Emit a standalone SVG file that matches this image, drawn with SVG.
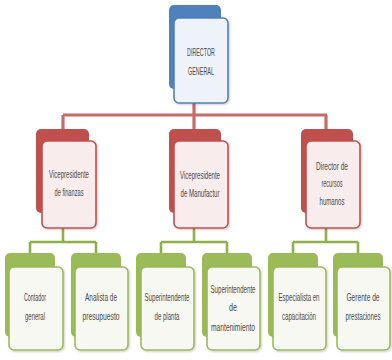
<svg xmlns="http://www.w3.org/2000/svg" width="392" height="360" viewBox="0 0 392 360">
<defs>
<style>
.bb{fill:#4F81BD}
.bf{fill:#EEF2F9;stroke:#4F81BD;stroke-width:1.6}
.rb{fill:#C0504D}
.rf{fill:#F8ECEC;stroke:#C0504D;stroke-width:1.6}
.gb{fill:#9BBB59}
.gf{fill:#F6F8F1;stroke:#9BBB59;stroke-width:1.6}
.red{fill:none;stroke:#C0504D;stroke-width:3.2;stroke-opacity:0.85}
.grn{fill:none;stroke:#8DB148;stroke-width:2.6}
text{font-family:"Liberation Sans",Arial,sans-serif;font-size:10.5px;fill:#4a4a4a;text-anchor:middle}
</style>
<filter id="sh" x="-10%" y="-10%" width="130%" height="130%">
<feDropShadow dx="1" dy="1" stdDeviation="1" flood-opacity="0.2"/>
</filter>
</defs>
<rect width="392" height="360" fill="#ffffff"/>
<g id="connectors">
<path class="red" d="M194,103 V115 M63,115 H327 M63,115 V130 M194,115 V130 M326,115 V130"/>
<path class="grn" d="M63,228 V242 M30,242 H96 M30,242 V254 M96,242 V254"/>
<path class="grn" d="M194,228 V242 M161,242 H227 M161,242 V254 M227,242 V254"/>
<path class="grn" d="M326,228 V242 M293,242 H358 M293,242 V254 M358,242 V254"/>
</g>
<g id="director-general">
<rect class="bb" x="169" y="5" width="52" height="84" rx="5"/>
<rect class="bf" x="174" y="18" width="54" height="85" rx="5" filter="url(#sh)"/>
<text x="201" y="56" textLength="28" lengthAdjust="spacingAndGlyphs">DIRECTOR</text>
<text x="201" y="75" textLength="26" lengthAdjust="spacingAndGlyphs">GENERAL</text>
</g>
<g id="vp-finanzas">
<rect class="rb" x="36" y="129" width="53" height="84" rx="5"/>
<rect class="rf" x="42" y="141" width="54" height="87" rx="5" filter="url(#sh)"/>
<text x="69" y="178" textLength="40" lengthAdjust="spacingAndGlyphs">Vicepresidente</text>
<text x="69" y="196" textLength="29" lengthAdjust="spacingAndGlyphs">de finanzas</text>
</g>
<g id="vp-manufactur">
<rect class="rb" x="169" y="129" width="52" height="84" rx="5"/>
<rect class="rf" x="174" y="141" width="54" height="87" rx="5" filter="url(#sh)"/>
<text x="200" y="179" textLength="40" lengthAdjust="spacingAndGlyphs">Vicepresidente</text>
<text x="200" y="197" textLength="39" lengthAdjust="spacingAndGlyphs">de Manufactur</text>
</g>
<g id="dir-rrhh">
<rect class="rb" x="301" y="129" width="52" height="84" rx="5"/>
<rect class="rf" x="306" y="141" width="54" height="87" rx="5" filter="url(#sh)"/>
<text x="332" y="170" textLength="32" lengthAdjust="spacingAndGlyphs">Director de</text>
<text x="332" y="187" textLength="21" lengthAdjust="spacingAndGlyphs">recursos</text>
<text x="332" y="205" textLength="25" lengthAdjust="spacingAndGlyphs">humanos</text>
</g>
<g id="contador">
<rect class="gb" x="5" y="253" width="50" height="84" rx="5"/>
<rect class="gf" x="9" y="267" width="54" height="83" rx="5" filter="url(#sh)"/>
<text x="35" y="301" textLength="22" lengthAdjust="spacingAndGlyphs">Contador</text>
<text x="35" y="320" textLength="20" lengthAdjust="spacingAndGlyphs">general</text>
</g>
<g id="analista">
<rect class="gb" x="71" y="253" width="50" height="84" rx="5"/>
<rect class="gf" x="75" y="267" width="53" height="83" rx="5" filter="url(#sh)"/>
<text x="101" y="301" textLength="32" lengthAdjust="spacingAndGlyphs">Analista de</text>
<text x="101" y="320" textLength="37" lengthAdjust="spacingAndGlyphs">presupuesto</text>
</g>
<g id="sup-planta">
<rect class="gb" x="136" y="253" width="50" height="84" rx="5"/>
<rect class="gf" x="141" y="267" width="53" height="83" rx="5" filter="url(#sh)"/>
<text x="167" y="301" textLength="45" lengthAdjust="spacingAndGlyphs">Superintendente</text>
<text x="167" y="320" textLength="25" lengthAdjust="spacingAndGlyphs">de planta</text>
</g>
<g id="sup-mantenimiento">
<rect class="gb" x="202" y="253" width="50" height="84" rx="5"/>
<rect class="gf" x="207" y="267" width="53" height="83" rx="5" filter="url(#sh)"/>
<text x="233" y="293" textLength="45" lengthAdjust="spacingAndGlyphs">Superintendente</text>
<text x="233" y="311" textLength="8" lengthAdjust="spacingAndGlyphs">de</text>
<text x="233" y="331" textLength="44" lengthAdjust="spacingAndGlyphs">mantenimiento</text>
</g>
<g id="especialista">
<rect class="gb" x="268" y="253" width="50" height="84" rx="5"/>
<rect class="gf" x="273" y="267" width="53" height="83" rx="5" filter="url(#sh)"/>
<text x="299" y="301" textLength="41" lengthAdjust="spacingAndGlyphs">Especialista en</text>
<text x="299" y="320" textLength="34" lengthAdjust="spacingAndGlyphs">capacitación</text>
</g>
<g id="gerente">
<rect class="gb" x="333" y="253" width="50" height="84" rx="5"/>
<rect class="gf" x="337" y="267" width="53" height="83" rx="5" filter="url(#sh)"/>
<text transform="translate(363,301) scale(0.63,1)">Gerente de</text>
<text transform="translate(363,320) scale(0.59,1)">prestaciones</text>
</g>
</svg>
